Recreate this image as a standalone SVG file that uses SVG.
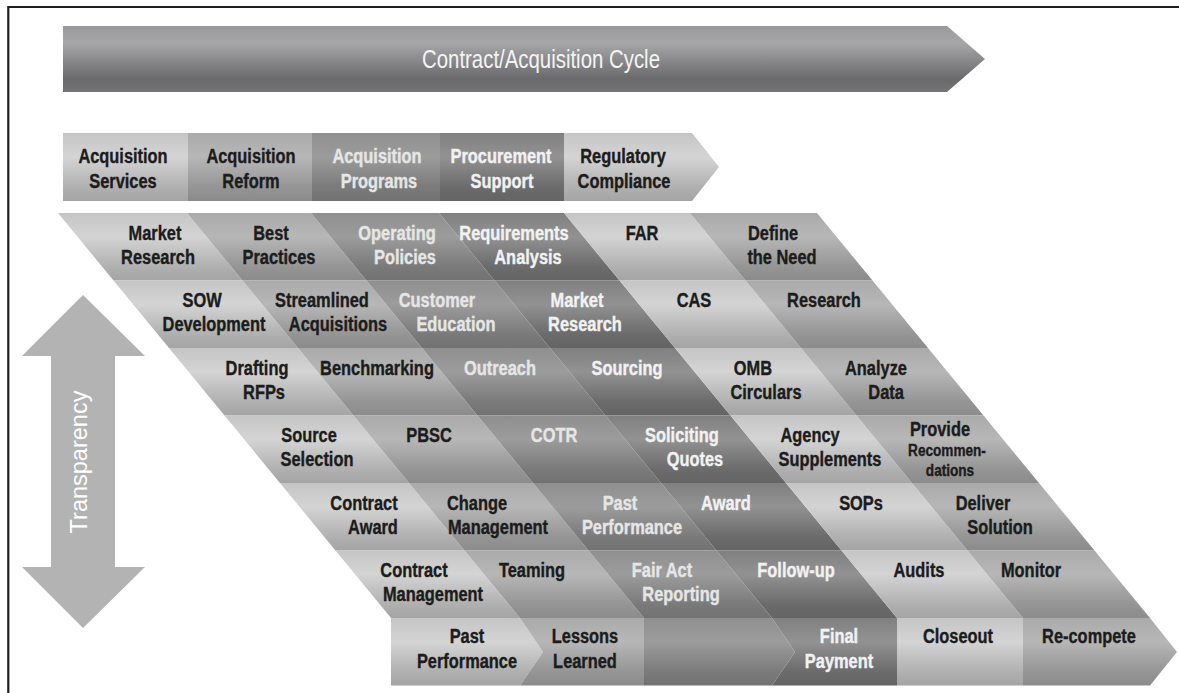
<svg xmlns="http://www.w3.org/2000/svg" width="1179" height="693" viewBox="0 0 1179 693">
<defs>
<linearGradient id="g0" x1="0" y1="0" x2="0" y2="1">
<stop offset="0" stop-color="#c5c5c5"/><stop offset="0.35" stop-color="#d4d4d4"/><stop offset="0.8" stop-color="#b0b0b0"/><stop offset="1" stop-color="#a4a4a4"/>
</linearGradient>
<linearGradient id="g1" x1="0" y1="0" x2="0" y2="1">
<stop offset="0" stop-color="#aaaaaa"/><stop offset="0.35" stop-color="#b7b7b7"/><stop offset="0.8" stop-color="#959595"/><stop offset="1" stop-color="#8b8b8b"/>
</linearGradient>
<linearGradient id="g2" x1="0" y1="0" x2="0" y2="1">
<stop offset="0" stop-color="#8f8f8f"/><stop offset="0.35" stop-color="#9c9c9c"/><stop offset="0.8" stop-color="#7a7a7a"/><stop offset="1" stop-color="#727272"/>
</linearGradient>
<linearGradient id="g3" x1="0" y1="0" x2="0" y2="1">
<stop offset="0" stop-color="#808080"/><stop offset="0.35" stop-color="#929292"/><stop offset="0.8" stop-color="#6b6b6b"/><stop offset="1" stop-color="#646464"/>
</linearGradient>
<linearGradient id="ban" x1="0" y1="0" x2="0" y2="1">
<stop offset="0" stop-color="#9a9a9c"/>
<stop offset="0.25" stop-color="#a7a7a9"/>
<stop offset="0.8" stop-color="#6a6a6c"/>
<stop offset="1" stop-color="#747476"/>
</linearGradient>
<style>
.c0{fill:url(#g0)}.c1{fill:url(#g1)}.c2{fill:url(#g2)}.c3{fill:url(#g3)}
text{font-family:'Liberation Sans',Arial,sans-serif;font-weight:bold;font-size:20.5px;text-anchor:middle;transform-box:fill-box;transform-origin:center;transform:scaleX(0.8)}
.d{fill:#1c1c1c;stroke:#1c1c1c;stroke-width:0.4}
.w{fill:#f2f2f2;stroke:#f2f2f2;stroke-width:0.4}
.lw{fill:#e6e6e6;stroke:#e6e6e6;stroke-width:0.4}
.sm{font-size:17px}
.tp{transform:none;font-weight:normal;font-size:23.5px;fill:#fff}
.bt{font-weight:normal;font-size:25.5px;fill:#f4f4f4}
.frame{stroke:#1e1e1e;stroke-width:2.2;fill:none}
</style>
</defs>
<rect width="1179" height="693" fill="#fff"/>
<path class="frame" d="M8.3,693 V7 H1179"/>

<g id="banner">
<polygon points="63,26 947,26 985,59 947,92 63,92" fill="url(#ban)"/>
<text class="bt" x="541" y="68">Contract/Acquisition Cycle</text>
</g>

<g id="header">
<g id="h-services"><rect class="c0" x="63" y="133" width="125" height="68"/>
<text class="d" x="123" y="163">Acquisition</text><text class="d" x="123" y="188">Services</text></g>
<g id="h-reform"><rect class="c1" x="188" y="133" width="124" height="68"/>
<text class="d" x="251" y="163">Acquisition</text><text class="d" x="251" y="188">Reform</text></g>
<g id="h-programs"><rect class="c2" x="312" y="133" width="128" height="68"/>
<text class="lw" x="377" y="163">Acquisition</text><text class="lw" x="379" y="188">Programs</text></g>
<g id="h-procurement"><rect class="c3" x="440" y="133" width="124" height="68"/>
<text class="w" x="501" y="163">Procurement</text><text class="w" x="502" y="188">Support</text></g>
<g id="h-regulatory"><polygon class="c0" points="564,133 692,133 719,167 692,201 564,201"/>
<text class="d" x="623" y="163">Regulatory</text><text class="d" x="624" y="188">Compliance</text></g>
</g>

<g id="transparency">
<polygon points="83,295 145,356 115,356 115,567 145,567 83,628 22,567 51,567 51,356 22,356" fill="#b3b3b3"/>
<g transform="translate(87,462) rotate(-90)"><text class="tp" x="0" y="0">Transparency</text></g>
</g>

<g id="grid">
<g id="r1c1"><polygon class="c0" points="58,213 187,213 242.5,280.5 113.5,280.5"/><text class="d" x="155" y="240">Market</text><text class="d" x="158" y="264">Research</text></g>
<g id="r1c2"><polygon class="c1" points="187,213 311,213 366.5,280.5 242.5,280.5"/><text class="d" x="271" y="240">Best</text><text class="d" x="279" y="264">Practices</text></g>
<g id="r1c3"><polygon class="c2" points="311,213 439,213 494.5,280.5 366.5,280.5"/><text class="lw" x="397" y="240">Operating</text><text class="lw" x="405" y="264">Policies</text></g>
<g id="r1c4"><polygon class="c3" points="439,213 564,213 619.5,280.5 494.5,280.5"/><text class="w" x="514" y="240">Requirements</text><text class="w" x="528" y="264">Analysis</text></g>
<g id="r1c5"><polygon class="c0" points="564,213 690,213 745.5,280.5 619.5,280.5"/><text class="d" x="642" y="240">FAR</text></g>
<g id="r1c6"><polygon class="c1" points="690,213 817,213 872.5,280.5 745.5,280.5"/><text class="d" x="773" y="240">Define</text><text class="d" x="782" y="264">the Need</text></g>

<g id="r2c1"><polygon class="c0" points="113.5,280.5 242.5,280.5 298,348 169,348"/><text class="d" x="202" y="307.5">SOW</text><text class="d" x="214" y="331.5">Development</text></g>
<g id="r2c2"><polygon class="c1" points="242.5,280.5 366.5,280.5 422,348 298,348"/><text class="d" x="322" y="307.5">Streamlined</text><text class="d" x="338" y="331.5">Acquisitions</text></g>
<g id="r2c3"><polygon class="c2" points="366.5,280.5 494.5,280.5 550,348 422,348"/><text class="lw" x="437" y="307.5">Customer</text><text class="lw" x="456" y="331.5">Education</text></g>
<g id="r2c4"><polygon class="c3" points="494.5,280.5 619.5,280.5 675,348 550,348"/><text class="w" x="577" y="307.5">Market</text><text class="w" x="585" y="331.5">Research</text></g>
<g id="r2c5"><polygon class="c0" points="619.5,280.5 745.5,280.5 801,348 675,348"/><text class="d" x="694" y="307.5">CAS</text></g>
<g id="r2c6"><polygon class="c1" points="745.5,280.5 872.5,280.5 928,348 801,348"/><text class="d" x="824" y="307.5">Research</text></g>

<g id="r3c1"><polygon class="c0" points="169,348 298,348 353.5,415.5 224.5,415.5"/><text class="d" x="257" y="375">Drafting</text><text class="d" x="264" y="399">RFPs</text></g>
<g id="r3c2"><polygon class="c1" points="298,348 422,348 477.5,415.5 353.5,415.5"/><text class="d" x="377" y="375">Benchmarking</text></g>
<g id="r3c3"><polygon class="c2" points="422,348 550,348 605.5,415.5 477.5,415.5"/><text class="lw" x="500" y="375">Outreach</text></g>
<g id="r3c4"><polygon class="c3" points="550,348 675,348 730.5,415.5 605.5,415.5"/><text class="w" x="627" y="375">Sourcing</text></g>
<g id="r3c5"><polygon class="c0" points="675,348 801,348 856.5,415.5 730.5,415.5"/><text class="d" x="753" y="375">OMB</text><text class="d" x="766" y="399">Circulars</text></g>
<g id="r3c6"><polygon class="c1" points="801,348 928,348 983.5,415.5 856.5,415.5"/><text class="d" x="876" y="375">Analyze</text><text class="d" x="886" y="399">Data</text></g>

<g id="r4c1"><polygon class="c0" points="224.5,415.5 353.5,415.5 409,483 280,483"/><text class="d" x="309" y="442.5">Source</text><text class="d" x="317" y="466.5">Selection</text></g>
<g id="r4c2"><polygon class="c1" points="353.5,415.5 477.5,415.5 533,483 409,483"/><text class="d" x="429" y="442.5">PBSC</text></g>
<g id="r4c3"><polygon class="c2" points="477.5,415.5 605.5,415.5 661,483 533,483"/><text class="lw" x="554" y="442.5">COTR</text></g>
<g id="r4c4"><polygon class="c3" points="605.5,415.5 730.5,415.5 786,483 661,483"/><text class="w" x="682" y="442.5">Soliciting</text><text class="w" x="695" y="466.5">Quotes</text></g>
<g id="r4c5"><polygon class="c0" points="730.5,415.5 856.5,415.5 912,483 786,483"/><text class="d" x="810" y="442.5">Agency</text><text class="d" x="830" y="466.5">Supplements</text></g>
<g id="r4c6"><polygon class="c1" points="856.5,415.5 983.5,415.5 1039,483 912,483"/><text class="d" x="940" y="436.5">Provide</text><text class="d sm" x="947" y="456.5">Recommen-</text><text class="d sm" x="950" y="476">dations</text></g>

<g id="r5c1"><polygon class="c0" points="280,483 409,483 464.5,550.5 335.5,550.5"/><text class="d" x="364" y="510">Contract</text><text class="d" x="373" y="534">Award</text></g>
<g id="r5c2"><polygon class="c1" points="409,483 533,483 588.5,550.5 464.5,550.5"/><text class="d" x="477" y="510">Change</text><text class="d" x="498" y="534">Management</text></g>
<g id="r5c3"><polygon class="c2" points="533,483 661,483 716.5,550.5 588.5,550.5"/><text class="lw" x="620" y="510">Past</text><text class="lw" x="632" y="534">Performance</text></g>
<g id="r5c4"><polygon class="c3" points="661,483 786,483 841.5,550.5 716.5,550.5"/><text class="w" x="726" y="510">Award</text></g>
<g id="r5c5"><polygon class="c0" points="786,483 912,483 967.5,550.5 841.5,550.5"/><text class="d" x="861" y="510">SOPs</text></g>
<g id="r5c6"><polygon class="c1" points="912,483 1039,483 1094.5,550.5 967.5,550.5"/><text class="d" x="983" y="510">Deliver</text><text class="d" x="1000" y="534">Solution</text></g>

<g id="r6c1"><polygon class="c0" points="335.5,550.5 464.5,550.5 520,618 391,618"/><text class="d" x="414" y="577.5">Contract</text><text class="d" x="433" y="601.5">Management</text></g>
<g id="r6c2"><polygon class="c1" points="464.5,550.5 588.5,550.5 644,618 520,618"/><text class="d" x="532" y="577.5">Teaming</text></g>
<g id="r6c3"><polygon class="c2" points="588.5,550.5 716.5,550.5 772,618 644,618"/><text class="lw" x="662" y="577.5">Fair Act</text><text class="lw" x="681" y="601.5">Reporting</text></g>
<g id="r6c4"><polygon class="c3" points="716.5,550.5 841.5,550.5 897,618 772,618"/><text class="w" x="796" y="577.5">Follow-up</text></g>
<g id="r6c5"><polygon class="c0" points="841.5,550.5 967.5,550.5 1023,618 897,618"/><text class="d" x="919" y="577.5">Audits</text></g>
<g id="r6c6"><polygon class="c1" points="967.5,550.5 1094.5,550.5 1150,618 1023,618"/><text class="d" x="1031" y="577.5">Monitor</text></g>

<g id="r7c1"><polygon class="c0" points="391,618 520,618 543,652 520,685.5 391,685.5"/><text class="d" x="467" y="643">Past</text><text class="d" x="467" y="668">Performance</text></g>
<g id="r7c2"><polygon class="c1" points="520,618 644,618 644,685.5 520,685.5 543,652"/><text class="d" x="585" y="643">Lessons</text><text class="d" x="585" y="668">Learned</text></g>
<g id="r7c3"><polygon class="c2" points="644,618 772,618 795,652 772,685.5 644,685.5"/></g>
<g id="r7c4"><polygon class="c3" points="772,618 897,618 897,685.5 772,685.5 795,652"/><text class="w" x="839" y="643">Final</text><text class="w" x="839" y="668">Payment</text></g>
<g id="r7c5"><polygon class="c0" points="897,618 1023,618 1023,685.5 897,685.5"/><text class="d" x="958" y="643">Closeout</text></g>
<g id="r7c6"><polygon class="c1" points="1023,618 1150,618 1177,652 1150,685.5 1023,685.5"/><text class="d" x="1089" y="643">Re-compete</text></g>
</g>
</svg>
